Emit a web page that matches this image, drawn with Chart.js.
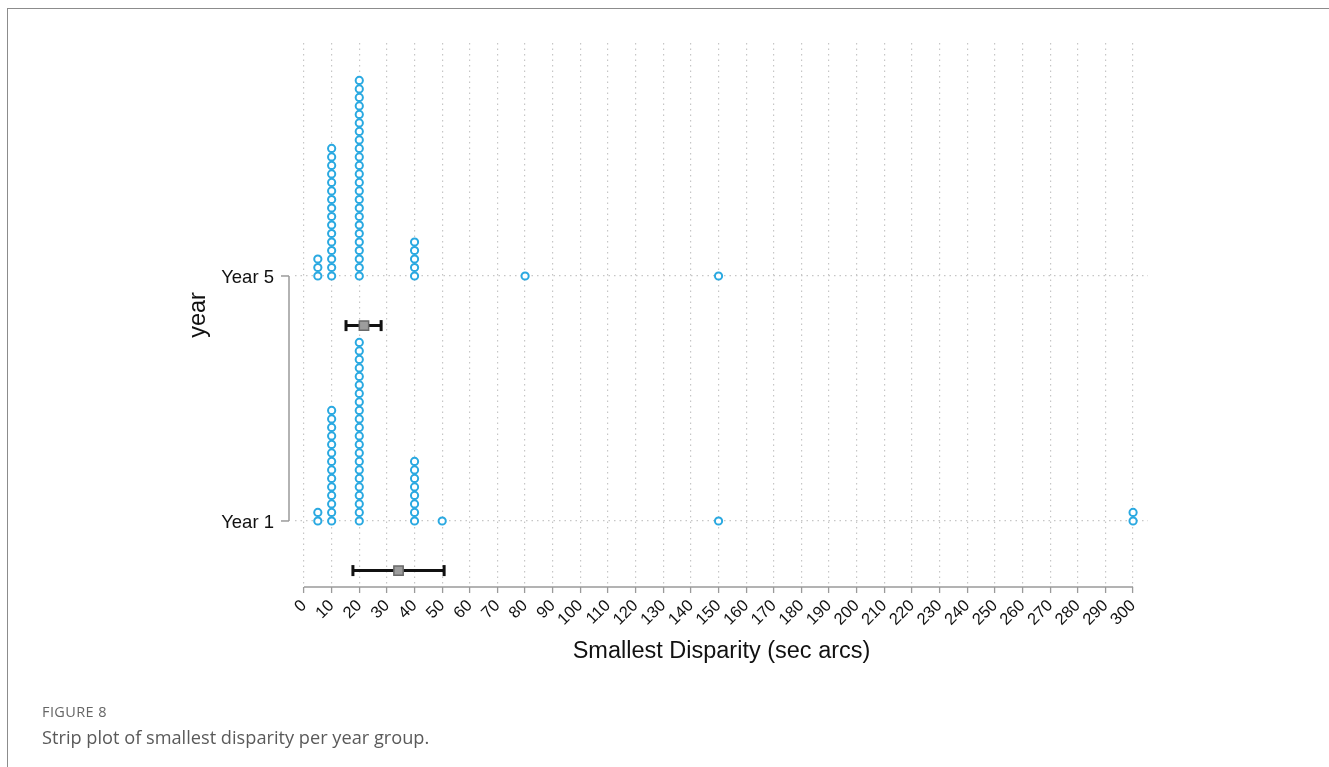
<!DOCTYPE html>
<html>
<head>
<meta charset="utf-8">
<script src="https://cdn.jsdelivr.net/npm/chart.js@4.4.1/dist/chart.umd.min.js"></script>
<style>
  html, body { margin: 0; padding: 0; background: #fff; }
  #wrap { position: relative; width: 1329px; height: 767px; overflow: hidden; }
  #frame { position: absolute; left: 7px; top: 8px; right: -4px; bottom: -4px;
           border-left: 1.5px solid #8c8c8c; border-top: 1.5px solid #8c8c8c; }
  canvas { position: absolute; left: 0; top: 0; }
  .fig { position: absolute; left: 42px; top: 702px; font-family: "Open Sans", sans-serif;
         font-size: 14.5px; color: #666; letter-spacing: 0.4px; }
  .cap { position: absolute; left: 42px; top: 725px; font-family: "Open Sans", sans-serif;
         font-size: 18.2px; color: #5a5a5a; }
</style>
</head>
<body>
<div id="wrap">
  <div id="frame"></div>
  <canvas id="c" width="1329" height="767"></canvas>
  <div class="fig">FIGURE 8</div>
  <div class="cap">Strip plot of smallest disparity per year group.</div>
</div>
<script>
// Year groups and where they sit on the vertical axis
const groupLabels = ['Year 1', 'Year 5'];
const groupPositions = [1, 5];

// Smallest disparity (sec arcs), one entry per participant
const year1Disparity = [
  5, 5,
  10, 10, 10, 10, 10, 10, 10, 10, 10, 10, 10, 10, 10, 10,
  20, 20, 20, 20, 20, 20, 20, 20, 20, 20, 20, 20, 20, 20, 20, 20, 20, 20, 20, 20, 20, 20,
  40, 40, 40, 40, 40, 40, 40, 40,
  50, 150, 300, 300
];
const year5Disparity = [
  5, 5, 5,
  10, 10, 10, 10, 10, 10, 10, 10, 10, 10, 10, 10, 10, 10, 10, 10,
  20, 20, 20, 20, 20, 20, 20, 20, 20, 20, 20, 20, 20, 20, 20, 20, 20, 20, 20, 20, 20, 20, 20, 20,
  40, 40, 40, 40, 40,
  80, 150
];

// Group mean and confidence interval (Year 1, Year 5)
const meanDisparity = [34.2, 21.7];
const ciLower = [17.7, 15.2];
const ciUpper = [50.7, 27.9];

// Horizontal axis ticks
const xTickValues = [0, 10, 20, 30, 40, 50, 60, 70, 80, 90, 100, 110, 120, 130, 140, 150,
  160, 170, 180, 190, 200, 210, 220, 230, 240, 250, 260, 270, 280, 290, 300];

// Layout constants
const STACK_STEP = 0.1388;      // vertical gap between stacked equal values
const SUMMARY_OFFSET = 0.81;    // mean/CI bar sits below each group's strip
const DOT_COLOR = '#2aa9e1';
const FONT = 'Liberation Sans';

// Stack repeated values upward from the group's baseline
function stackPoints(values, base) {
  const seen = {};
  return values.map(v => {
    const k = seen[v] || 0;
    seen[v] = k + 1;
    return { x: v, y: base + k * STACK_STEP };
  });
}

const groupsData = [year1Disparity, year5Disparity];

const datasets = [];
// summary squares (drawn on top)
datasets.push({
  type: 'scatter',
  data: meanDisparity.map((m, i) => ({ x: m, y: groupPositions[i] - SUMMARY_OFFSET })),
  pointStyle: 'rect',
  pointRadius: 6.6,
  pointBackgroundColor: '#9d9d9d',
  pointBorderColor: '#6a6a6a',
  pointBorderWidth: 1.5
});
// confidence interval bars
groupPositions.forEach((p, i) => {
  datasets.push({
    type: 'line',
    data: [{ x: ciLower[i], y: p - SUMMARY_OFFSET }, { x: ciUpper[i], y: p - SUMMARY_OFFSET }],
    borderColor: '#111',
    borderWidth: 3,
    showLine: true,
    fill: false,
    pointStyle: 'line',
    rotation: 90,
    pointRadius: 5.5,
    pointBorderWidth: 3,
    pointBorderColor: '#111'
  });
});
// strips of individual values
groupsData.forEach((vals, i) => {
  datasets.push({
    type: 'scatter',
    data: stackPoints(vals, groupPositions[i]),
    pointStyle: 'circle',
    pointRadius: 3.6,
    pointBorderWidth: 2,
    pointBorderColor: DOT_COLOR,
    pointBackgroundColor: '#ffffff'
  });
});

// Range-frame axis lines: x from first to last tick, y between the groups
const rangeFrame = {
  id: 'rangeFrame',
  beforeDatasetsDraw(chart) {
    const { ctx, chartArea, scales: { x, y } } = chart;
    ctx.save();
    ctx.strokeStyle = '#9a9a9a';
    ctx.lineWidth = 1.5;
    ctx.setLineDash([]);
    ctx.beginPath();
    ctx.moveTo(x.getPixelForValue(xTickValues[0]), chartArea.bottom);
    ctx.lineTo(x.getPixelForValue(xTickValues[xTickValues.length - 1]), chartArea.bottom);
    ctx.stroke();
    const xl = chartArea.left - 6;
    const yA = y.getPixelForValue(Math.min(...groupPositions));
    const yB = y.getPixelForValue(Math.max(...groupPositions));
    ctx.beginPath();
    ctx.moveTo(xl, yA);
    ctx.lineTo(xl, yB);
    ctx.stroke();
    groupPositions.forEach(p => {
      const py = y.getPixelForValue(p);
      ctx.beginPath();
      ctx.moveTo(xl - 8, py);
      ctx.lineTo(xl, py);
      ctx.stroke();
    });
    ctx.restore();
  }
};

new Chart(document.getElementById('c'), {
  data: { datasets },
  plugins: [rangeFrame],
  options: {
    responsive: false,
    animation: false,
    layout: { padding: { left: 172, right: 181, top: 43, bottom: 100 } },
    plugins: { legend: { display: false }, tooltip: { enabled: false } },
    scales: {
      x: {
        type: 'linear',
        min: -3.26,
        max: 305.4,
        afterBuildTicks: s => { s.ticks = xTickValues.map(v => ({ value: v })); },
        afterFit: s => { s.height = 80; },
        ticks: {
          autoSkip: false,
          maxRotation: 45,
          minRotation: 45,
          padding: 3,
          color: '#111',
          font: { family: FONT, size: 16.5 },
          callback: v => String(v)
        },
        grid: { color: '#c6c6c6', lineWidth: 1.2, drawTicks: true, tickLength: 6,
                tickColor: '#9a9a9a', tickWidth: 1.3 },
        border: { display: false, dash: [1.5, 4] },
        title: { display: true, text: 'Smallest Disparity (sec arcs)', color: '#111',
                 font: { family: FONT, size: 23.5 }, padding: { top: 0, bottom: 1 } }
      },
      y: {
        type: 'linear',
        min: -0.078,
        max: 8.804,
        afterBuildTicks: s => { s.ticks = groupPositions.map(v => ({ value: v })); },
        afterFit: s => { s.width = 123; },
        ticks: {
          padding: 21,
          labelOffset: 1.5,
          color: '#111',
          font: { family: FONT, size: 18.5 },
          callback: v => groupLabels[groupPositions.indexOf(v)]
        },
        grid: { color: '#c6c6c6', lineWidth: 1.2, drawTicks: false },
        border: { display: false, dash: [1.5, 4] },
        title: { display: true, text: 'year', color: '#111',
                 font: { family: FONT, size: 23.5 }, padding: { top: 12, bottom: 0 } }
      }
    }
  }
});
</script>
</body>
</html>
